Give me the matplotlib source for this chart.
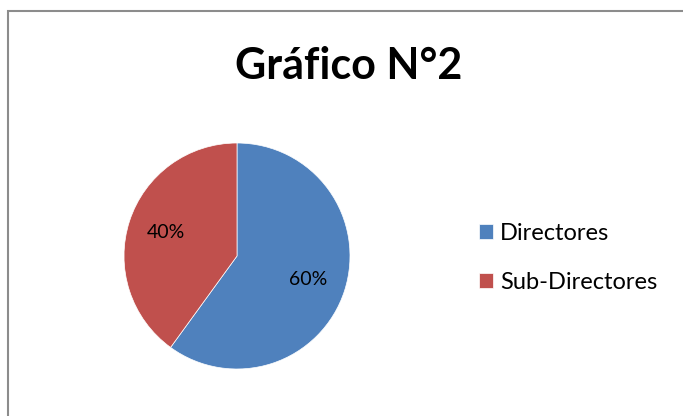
import matplotlib.pyplot as plt
from matplotlib.patches import Rectangle

plt.rcParams['font.family'] = ['Lato', 'DejaVu Sans']

labels = ['Directores', 'Sub-Directores']
values = [60, 40]
colors = ['#4F81BD', '#C0504D']

W, H = 683, 416
fig = plt.figure(figsize=(W / 100, H / 100), dpi=100)

# outer chart border (only left and top edges visible in the crop)
fig.patches.append(Rectangle((7.5 / W, -0.2), 2.0, (H - 10.5) / H + 0.2,
                             transform=fig.transFigure, fill=False,
                             edgecolor='#8c8c8c', linewidth=1.5))

fig.text(349 / W, 1 - 66 / H, 'Gráfico N°2', ha='center', va='center',
         fontsize=31, fontweight='bold')

cx, cy, r = 237, 256, 113
ax = fig.add_axes([(cx - r) / W, (H - cy - r) / H, 2 * r / W, 2 * r / H])
wedges, texts, autotexts = ax.pie(values, colors=colors, startangle=90,
                                  counterclock=False, autopct='%1.0f%%',
                                  pctdistance=0.66,
                                  wedgeprops=dict(edgecolor='white', linewidth=0.5),
                                  textprops=dict(fontsize=14))
ax.set_xlim(-1, 1)
ax.set_ylim(-1, 1)
ax.set_aspect('equal')

fig.legend(wedges, labels, loc='center left',
           bbox_to_anchor=(479 / W, 1 - 258 / H), frameon=False,
           borderpad=0, borderaxespad=0,
           fontsize=17, handlelength=0.6, handleheight=0.6,
           handletextpad=0.3, labelspacing=1.2)

plt.savefig('out.png', dpi=100)
